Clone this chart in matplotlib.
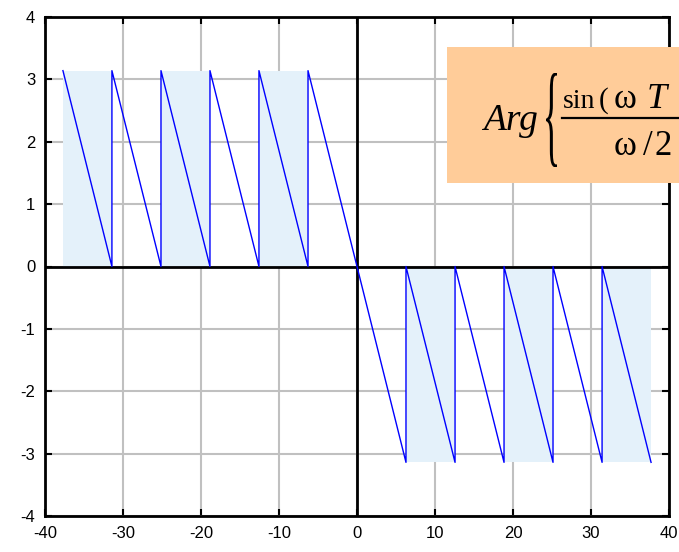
import matplotlib
matplotlib.use("Agg")
import matplotlib.pyplot as plt
from matplotlib.patches import Rectangle, PathPatch
from matplotlib.textpath import TextPath
from matplotlib.font_manager import FontProperties
from matplotlib.transforms import Affine2D
from matplotlib.lines import Line2D

plt.rcParams['font.family'] = ['Liberation Sans', 'DejaVu Sans']
plt.rcParams['axes.unicode_minus'] = False

# phase curve vertices
phase_x = [-37.7, -31.42, -31.42, -25.13, -25.13, -18.85, -18.85, -12.57, -12.57, -6.28,
           -6.28, 6.28, 6.28, 12.57, 12.57, 18.85, 18.85, 25.13, 25.13, 31.42, 31.42, 37.7]
phase_y = [3.14, 0, 3.14, 0, 3.14, 0, 3.14, 0, 3.14, 0,
           3.14, -3.14, 0, -3.14, 0, -3.14, 0, -3.14, 0, -3.14, 0, -3.14]

# shaded bands: (x start, x end, y low, y high)
band_x0 = [-37.7, -25.13, -12.57, 6.28, 18.85, 31.42]
band_x1 = [-31.42, -18.85, -6.28, 12.57, 25.13, 37.7]
band_y0 = [0, 0, 0, -3.14, -3.14, -3.14]
band_y1 = [3.14, 3.14, 3.14, 0, 0, 0]

x_ticks = [-40, -30, -20, -10, 0, 10, 20, 30, 40]
y_ticks = [-4, -3, -2, -1, 0, 1, 2, 3, 4]

W, H = 679, 552
fig = plt.figure(figsize=(W / 100, H / 100), dpi=100)
ax = fig.add_axes([45 / W, (H - 516) / H, (669 - 45) / W, (516 - 17) / H])

for x0, x1, y0, y1 in zip(band_x0, band_x1, band_y0, band_y1):
    ax.fill_between([x0, x1], [y0, y0], [y1, y1], color='#E4F1FA', lw=0, zorder=1)

ax.grid(True, color='#C0C0C0', lw=1.5, zorder=0)
ax.set_axisbelow(True)
ax.axhline(0, color='black', lw=2, zorder=2)
ax.axvline(0, color='black', lw=2, zorder=2)
ax.plot(phase_x, phase_y, color='#0000FF', lw=1, zorder=3)

ax.set_xlim(-40, 40)
ax.set_ylim(-4, 4)
ax.set_xticks(x_ticks)
ax.set_yticks(y_ticks)
ax.set_xticklabels([str(v) for v in x_ticks])
ax.set_yticklabels([str(v) for v in y_ticks])
ax.tick_params(direction='in', length=5, width=1.5, top=True, right=True,
               labelsize=12, pad=7)
for s in ax.spines.values():
    s.set_linewidth(2)

# ---- formula box (runs off the right edge, as in the reference) ----
fig.patches.append(Rectangle((447 / W, (H - 183) / H), 0.5, (183 - 47) / H,
                             transform=fig.transFigure, facecolor='#FFCC99',
                             edgecolor='none', zorder=5))


def put(x, y, s, size=25, italic=False):
    fig.text(x / W, (H - y) / H, s, family='Liberation Serif',
             style='italic' if italic else 'normal', fontsize=size,
             ha='left', va='baseline', zorder=6, color='black')


put(483, 130, 'Arg', size=27, italic=True)
# numerator (visible part)
put(563, 108, 'sin', size=20)
put(599, 108, '(', size=21)
put(614, 108, 'ω')
put(647, 108, 'T', size=26, italic=True)
# denominator
put(614, 155, 'ω')
put(643, 155, '/')
put(655, 155, '2')
# fraction bar
fig.add_artist(Line2D([562 / W, 1.02], [(H - 118) / H] * 2, transform=fig.transFigure,
                      color='black', lw=1.6, zorder=6))
# tall thin brace glyph
tp = TextPath((0, 0), '{', size=100, prop=FontProperties(family='Liberation Serif'))
bb = tp.get_extents()
bx0, bx1, by_top, by_bot = 546, 557, 73, 167
tr = (Affine2D().translate(-bb.x0, -bb.y0)
      .scale((bx1 - bx0) / bb.width, (by_bot - by_top) / bb.height)
      .translate(bx0, H - by_bot))
fig.add_artist(PathPatch(tp, transform=tr, facecolor='black', edgecolor='none', zorder=6))

fig.savefig('out.png', dpi=100)
